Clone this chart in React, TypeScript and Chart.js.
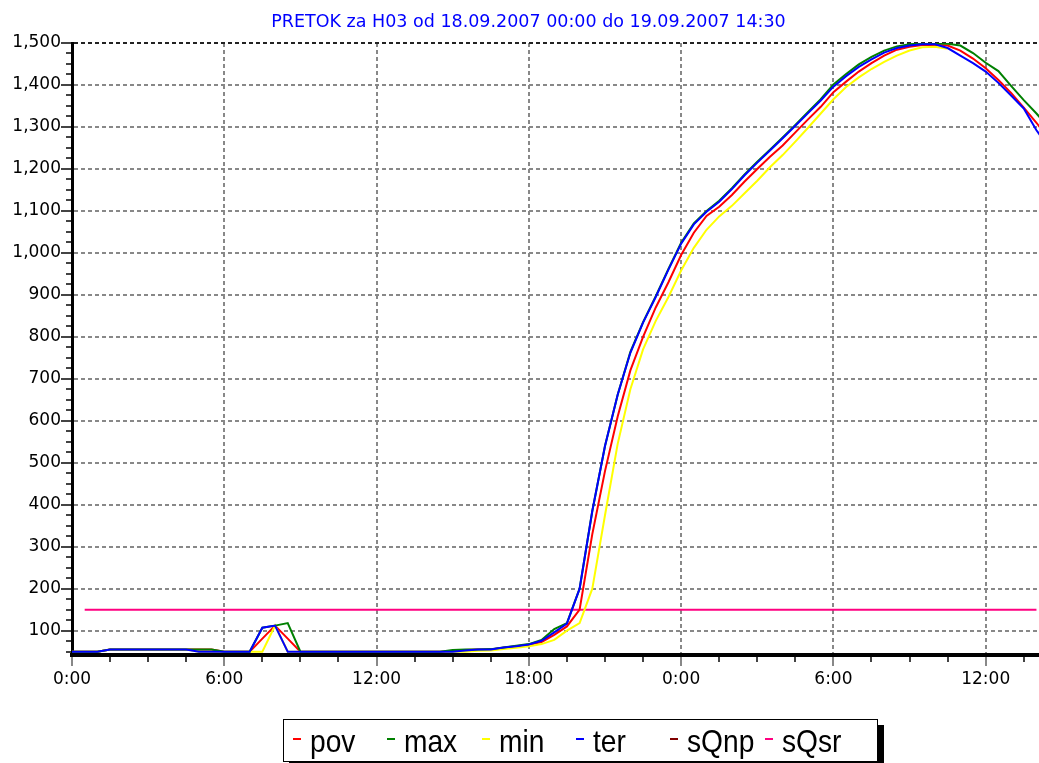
import React, { useEffect, useRef } from 'react';
import { Chart, registerables } from 'chart.js';

Chart.register(...registerables);

const TITLE = 'PRETOK za H03 od 18.09.2007 00:00 do 19.09.2007 14:30';

// time in hours from 18.09.2007 00:00, half-hour samples
const hours = [
  0, 0.5, 1, 1.5, 2, 2.5, 3, 3.5, 4, 4.5, 5, 5.5, 6, 6.5, 7, 7.5, 8, 8.5, 9, 9.5,
  10, 10.5, 11, 11.5, 12, 12.5, 13, 13.5, 14, 14.5, 15, 15.5, 16, 16.5, 17, 17.5, 18, 18.5, 19, 19.5,
  20, 20.5, 21, 21.5, 22, 22.5, 23, 23.5, 24, 24.5, 25, 25.5, 26, 26.5, 27, 27.5, 28, 28.5, 29, 29.5,
  30, 30.5, 31, 31.5, 32, 32.5, 33, 33.5, 34, 34.5, 35, 35.5, 36, 36.5, 37, 37.5, 38, 38.5,
];

const pov: (number | null)[] = [
  50, 50, 50, 55, 55, 55, 55, 55, 55, 55, 55, 55, 50, 50, 50, 81, 112, 81, 50, 50,
  50, 50, 50, 50, 50, 50, 50, 50, 50, 50, 52, 54, 55, 55, 59, 62, 66, 73, 90, 110,
  150, 330, 480, 610, 720, 800, 870, 930, 995, 1048, 1088, 1110, 1138, 1170, 1200, 1229, 1256, 1287, 1318, 1348,
  1383, 1408, 1432, 1452, 1470, 1484, 1491, 1495, 1496, 1494, 1482, 1463, 1440, 1412, 1381, 1346, 1310, 1270,
];

const maxQ: (number | null)[] = [
  50, 50, 50, 55, 55, 55, 55, 55, 55, 55, 55, 55, 50, 50, 50, 107, 112, 118, 50, 50,
  50, 50, 50, 50, 50, 50, 50, 50, 50, 50, 54, 55, 55, 56, 60, 64, 68, 78, 104, 118,
  200, 385, 540, 662, 764, 835, 897, 962, 1024, 1070, 1100, 1124, 1154, 1187, 1217, 1246, 1275, 1305, 1336, 1366,
  1401, 1426, 1449, 1467, 1482, 1492, 1497, 1499, 1499, 1498, 1494, 1476, 1453, 1433, 1398, 1364, 1332, 1298,
];

const minQ: (number | null)[] = [
  50, 50, 50, 55, 55, 55, 55, 55, 55, 55, 50, 50, 50, 50, 50, 50, 112, 50, 50, 50,
  50, 50, 50, 50, 50, 50, 50, 50, 50, 50, 50, 50, 52, 53, 56, 59, 63, 68, 78, 100,
  118, 200, 375, 545, 675, 770, 838, 895, 958, 1012, 1055, 1087, 1112, 1142, 1172, 1204, 1233, 1265, 1298, 1332,
  1366, 1395, 1418, 1438, 1455, 1470, 1482, 1490, 1491, 1486, null, null, null, null, null, null, null, null,
];

const ter: (number | null)[] = [
  50, 50, 50, 55, 55, 55, 55, 55, 55, 55, 50, 50, 50, 50, 50, 107, 112, 50, 50, 50,
  50, 50, 50, 50, 50, 50, 50, 50, 50, 50, 50, 53, 55, 55, 60, 63, 67, 76, 96, 117,
  200, 385, 540, 662, 762, 834, 895, 960, 1022, 1068, 1098, 1122, 1152, 1185, 1215, 1244, 1273, 1303, 1333, 1363,
  1396, 1421, 1443, 1461, 1477, 1488, 1494, 1497, 1497, 1488, 1470, 1452, 1432, 1405, 1375, 1344, 1292, 1250,
];

const sQnp: (number | null)[] = [];

const sQsr: (number | null)[] = [
  null, 150, 150, 150, 150, 150, 150, 150, 150, 150, 150, 150, 150, 150, 150, 150, 150, 150, 150, 150,
  150, 150, 150, 150, 150, 150, 150, 150, 150, 150, 150, 150, 150, 150, 150, 150, 150, 150, 150, 150,
  150, 150, 150, 150, 150, 150, 150, 150, 150, 150, 150, 150, 150, 150, 150, 150, 150, 150, 150, 150,
  150, 150, 150, 150, 150, 150, 150, 150, 150, 150, 150, 150, 150, 150, 150, 150, 150, null,
];

const seriesNames = ['pov', 'max', 'min', 'ter', 'sQnp', 'sQsr'];
const seriesColors = ['#ff0000', '#008000', '#ffff00', '#0000ff', '#800000', '#ff0080'];
const seriesData = [pov, maxQ, minQ, ter, sQnp, sQsr];
const seriesOrder = [3, 1, 2, 0, 5, 4];

const yTickValues = [100, 200, 300, 400, 500, 600, 700, 800, 900, 1000, 1100, 1200, 1300, 1400, 1500];
const xTickValues = [0, 6, 12, 18, 24, 30, 36];
const xTickLabels = ['0:00', '6:00', '12:00', '18:00', '0:00', '6:00', '12:00'];
const Y_MIN = 42;
const Y_MAX = 1500;
const X_MIN = 0;
const X_MAX = 38.1;
const Y_MINOR = 25;
const X_MINOR = 1.5;

const FONT = '"DejaVu Sans", Verdana, sans-serif';

function fmtThousands(v: number): string {
  if (v >= 1000) {
    const th = Math.floor(v / 1000);
    const rest = String(v % 1000).padStart(3, '0');
    return th + ',' + rest;
  }
  return String(v);
}

const decorPlugin = {
  id: 'decor',
  afterDraw(chart: any) {
    const { ctx, chartArea: a, scales } = chart;
    const x = scales.x;
    const y = scales.y;
    ctx.save();
    // title
    ctx.font = '17.5px ' + FONT;
    ctx.fillStyle = '#0000ff';
    ctx.textAlign = 'center';
    ctx.textBaseline = 'alphabetic';
    ctx.fillText(TITLE, 528.5, 26.5);

    // y tick marks
    ctx.strokeStyle = '#444';
    ctx.lineWidth = 2;
    for (let v = Y_MIN - (Y_MIN % Y_MINOR) + Y_MINOR; v <= Y_MAX; v += Y_MINOR) {
      const py = Math.round(y.getPixelForValue(v));
      const len = v % 100 === 0 ? 10 : 5;
      ctx.beginPath();
      ctx.moveTo(a.left - 1 - len, py);
      ctx.lineTo(a.left - 1, py);
      ctx.stroke();
    }
    // x tick marks
    for (let h = X_MIN; h <= X_MAX; h += X_MINOR) {
      const px = Math.round(x.getPixelForValue(h));
      const major = h % 6 === 0;
      ctx.strokeStyle = major ? '#888' : '#444';
      const len = major ? 9 : 5;
      ctx.beginPath();
      ctx.moveTo(px, a.bottom + 2);
      ctx.lineTo(px, a.bottom + 2 + len);
      ctx.stroke();
    }
    ctx.restore();
  },
};

export default function App() {
  const ref = useRef<HTMLCanvasElement>(null);

  useEffect(() => {
    const canvas = ref.current;
    if (!canvas) return;
    const datasets = seriesNames.map((name, i) => ({
      label: name,
      data: hours
        .map((h, k) => ({ x: h, y: seriesData[i][k] }))
        .filter((p) => p.y !== undefined),
      borderColor: seriesColors[i],
      backgroundColor: seriesColors[i],
      borderWidth: 2,
      pointRadius: 0,
      tension: 0,
      fill: false,
      spanGaps: false,
      order: seriesOrder[i],
    }));

    const chart = new Chart(canvas, {
      type: 'line',
      data: { datasets },
      options: {
        animation: false,
        responsive: false,
        maintainAspectRatio: false,
        layout: { padding: { top: 43, left: 0, right: 0, bottom: 0 } },
        plugins: {
          legend: { display: false },
          title: { display: false },
          tooltip: { enabled: false },
        },
        scales: {
          x: {
            type: 'linear',
            min: X_MIN,
            max: X_MAX,
            afterBuildTicks: (s: any) => {
              s.ticks = xTickValues.map((v) => ({ value: v }));
            },
            afterFit: (s: any) => {
              s.height = 763 - 655;
            },
            grid: {
              color: '#888',
              lineWidth: 2,
              drawTicks: false,
            },
            border: { display: true, color: '#000', width: 4, dash: [4, 3] },
            ticks: {
              autoSkip: false,
              maxRotation: 0,
              padding: 14,
              color: '#000',
              font: { family: FONT, size: 17 },
              callback: (v: any, i: number) => xTickLabels[i],
            },
          },
          y: {
            type: 'linear',
            min: Y_MIN,
            max: Y_MAX,
            afterBuildTicks: (s: any) => {
              s.ticks = yTickValues.map((v) => ({ value: v }));
            },
            afterFit: (s: any) => {
              s.width = 72;
            },
            grid: {
              color: (c: any) => (c.tick && c.tick.value === Y_MAX ? '#222' : '#888'),
              lineWidth: 2,
              drawTicks: false,
            },
            border: { display: true, color: '#000', width: 3, dash: [4, 3] },
            ticks: {
              padding: 11,
              color: '#000',
              font: { family: FONT, size: 17 },
              callback: (v: any) => fmtThousands(Number(v)),
            },
          },
        },
      } as any,
      plugins: [decorPlugin],
    });
    return () => chart.destroy();
  }, []);

  const itemW = 94.3;
  return (
    <div style={{ position: 'fixed', left: 0, top: 0, width: 1039, height: 763, background: '#fff', overflow: 'hidden' }}>
      <canvas ref={ref} width={1039} height={763} style={{ position: 'absolute', left: 0, top: 0, width: 1039, height: 763 }} />
      <div
        style={{
          position: 'absolute',
          left: 283,
          top: 719,
          width: 595,
          height: 43,
          boxSizing: 'border-box',
          border: '1px solid #000',
          background: '#fff',
          boxShadow: '6px 6px 0 #000',
        }}
      >
        {seriesNames.map((name, i) => (
          <React.Fragment key={name}>
            <div
              style={{
                position: 'absolute',
                left: 9 + i * itemW,
                top: 18,
                width: 8,
                height: 2,
                background: seriesColors[i],
              }}
            />
            <div
              style={{
                position: 'absolute',
                left: 26 + i * itemW,
                top: 5,
                fontFamily: '"Liberation Sans", Arial, sans-serif',
                fontSize: 32,
                lineHeight: '32px',
                color: '#000',
                whiteSpace: 'nowrap',
                transform: 'scaleX(0.88)',
                transformOrigin: 'left center',
              }}
            >
              {name}
            </div>
          </React.Fragment>
        ))}
      </div>
    </div>
  );
}
